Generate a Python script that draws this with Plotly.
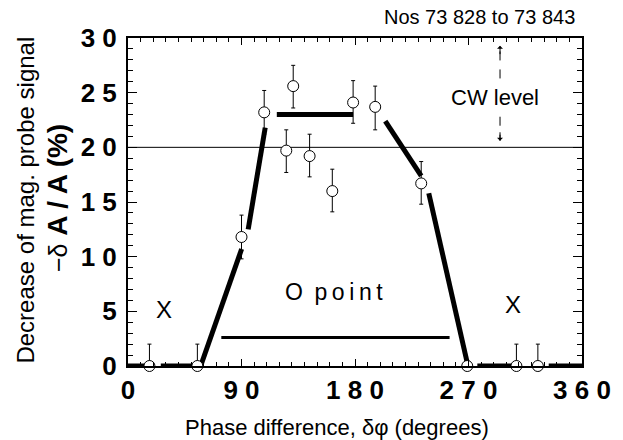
import plotly.graph_objects as go

# ---- data ----
phase = [17, 55, 90, 108, 125.5, 131, 144, 162, 178.5, 196, 232.5, 269, 308, 325]
signal = [0, 0, 11.8, 23.2, 19.7, 25.6, 19.2, 16.0, 24.1, 23.7, 16.7, 0, 0, 0]
err_plus = [2.0, 2.0, 2.0, 2.0, 1.9, 1.9, 2.0, 2.0, 2.0, 1.9, 2.0, 0, 2.0, 2.0]
err_minus = [0, 0, 2.0, 2.0, 2.0, 2.0, 1.9, 1.9, 1.9, 2.1, 1.9, 0, 0, 0]

# thick guide segments (x pairs, y pairs)
guide_x = [[0, 15], [26, 54], [57.6, 90.1], [95.3, 108.8], [118, 178.5],
           [204, 232.5], [238.5, 269], [277, 305], [333.6, 360]]
guide_y = [[0, 0], [0, 0], [0, 10.7], [12.5, 21.8], [23, 23],
           [22.4, 17.4], [15.8, 0.3], [0, 0], [0, 0]]

opoint_x = [74, 255]
opoint_y = [2.6, 2.6]

cw_level = 20
cw_arrow_x = 295
cw_up = [26.3, 29.3]
cw_down = [22.8, 20.6]

x_ticks = [0, 90, 180, 270, 360]
x_ticktext = ["0", "9 0", "1 8 0", "2 7 0", "3 6 0"]
y_ticks = [0, 5, 10, 15, 20, 25, 30]
y_ticktext = ["0", "5", "1 0", "1 5", "2 0", "2 5", "3 0"]

FONT = "Liberation Sans, Arial, sans-serif"

# plot-area geometry in pixels (used only for placing outside texts)
L, R, T, B = 128, 589, 38, 366


def px(xp):
    return (xp - L) / (R - L)


def py(yp):
    return (B - yp) / (B - T)


fig = go.Figure()

# CW level reference line
fig.add_trace(go.Scatter(x=[0, 360], y=[cw_level, cw_level], mode="lines",
                         line=dict(color="black", width=1), showlegend=False,
                         hoverinfo="skip"))

for gx, gy in zip(guide_x, guide_y):
    fig.add_trace(go.Scatter(x=gx, y=gy, mode="lines",
                             line=dict(color="black", width=5),
                             showlegend=False, cliponaxis=False, hoverinfo="skip"))

fig.add_trace(go.Scatter(x=opoint_x, y=opoint_y, mode="lines",
                         line=dict(color="black", width=3),
                         showlegend=False, hoverinfo="skip"))

# dashed arrows for CW level
fig.add_trace(go.Scatter(x=[cw_arrow_x, cw_arrow_x], y=cw_up, mode="lines",
                         line=dict(color="black", width=1, dash="dash"),
                         showlegend=False, hoverinfo="skip"))
fig.add_trace(go.Scatter(x=[cw_arrow_x, cw_arrow_x], y=cw_down, mode="lines",
                         line=dict(color="black", width=1, dash="dash"),
                         showlegend=False, hoverinfo="skip"))

fig.add_trace(go.Scatter(
    x=phase, y=signal, mode="markers",
    marker=dict(symbol="circle", size=11, color="white",
                line=dict(color="black", width=1)),
    error_y=dict(type="data", symmetric=False, array=err_plus,
                 arrayminus=err_minus, color="black", thickness=1, width=2),
    cliponaxis=False, showlegend=False))


def txt(x, y, text, size, xref="x", yref="y", angle=0):
    return dict(x=x, y=y, xref=xref, yref=yref, text=text, showarrow=False,
                xanchor="center", yanchor="middle", textangle=angle,
                font=dict(size=size, color="black", family=FONT))


annotations = [
    dict(x=cw_arrow_x, y=cw_up[1], xref="x", yref="y", ax=0, ay=10,
         showarrow=True, arrowhead=1, arrowsize=1, arrowwidth=1,
         arrowcolor="black", text=""),
    dict(x=cw_arrow_x, y=cw_down[1], xref="x", yref="y", ax=0, ay=-10,
         showarrow=True, arrowhead=1, arrowsize=1, arrowwidth=1,
         arrowcolor="black", text=""),
    txt(291, 24.6, "CW level", 22),
    txt(28.5, 5.2, "X", 24),
    txt(305, 5.6, "X", 24),
    txt(163, 6.8, "O\u2002p\u2009o\u2009i\u2009n\u2009t", 23),
    txt(px(485), py(17), "Nos 73 828 to 73 843", 20, "paper", "paper"),
    txt(px(340), py(427), "Phase difference, δφ (degrees)", 22, "paper", "paper"),
    txt(px(23), py(200), "Decrease of mag. probe signal", 24, "paper", "paper", -90),
    txt(px(56), py(198),
        "<span style='font-size:25px'>−δ</span> <b>A / A (%)</b>", 28,
        "paper", "paper", -90),
]

fig.update_layout(
    width=623, height=440,
    margin=dict(l=L, r=623 - R, t=T, b=440 - B),
    paper_bgcolor="white", plot_bgcolor="white",
    font=dict(family=FONT, color="black"),
    annotations=annotations,
    xaxis=dict(range=[0, 360], tickvals=x_ticks, ticktext=x_ticktext,
               ticks="inside", ticklen=7, tickwidth=1, tickcolor="black",
               showline=True, linecolor="black", linewidth=2, mirror="ticks",
               showgrid=False, zeroline=False, ticklabelstandoff=0,
               tickfont=dict(size=26, family="Liberation Sans", color="black",
                             weight="bold"),
               minor=dict(dtick=10, ticks="inside", ticklen=4, tickcolor="black",
                          showgrid=False)),
    yaxis=dict(range=[0, 30], tickvals=y_ticks, ticktext=y_ticktext,
               ticks="inside", ticklen=9, tickwidth=1, tickcolor="black",
               showline=True, linecolor="black", linewidth=2, mirror="ticks",
               showgrid=False, zeroline=False, ticklabelstandoff=4,
               tickfont=dict(size=26, family="Liberation Sans", color="black",
                             weight="bold"),
               minor=dict(dtick=1, ticks="inside", ticklen=5, tickcolor="black",
                          showgrid=False)),
)

fig.write_html("out.html", config={"displayModeBar": False},
               post_script="document.body.style.margin='0px';")
